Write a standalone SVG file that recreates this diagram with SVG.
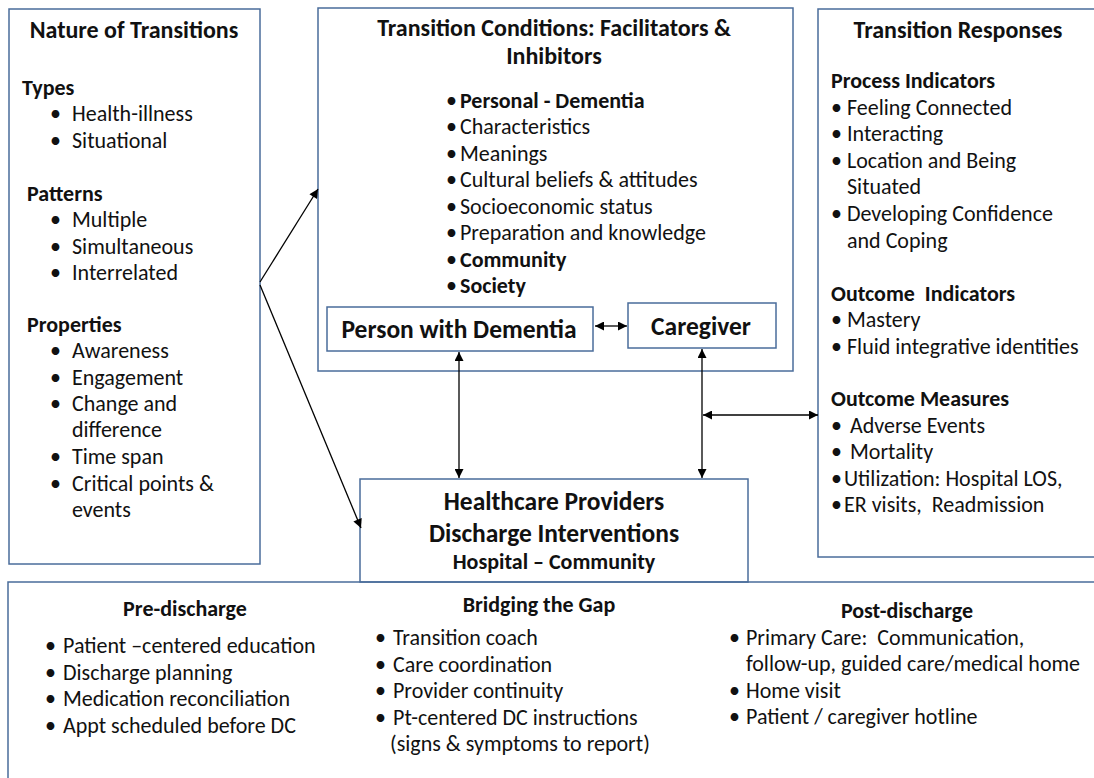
<svg xmlns="http://www.w3.org/2000/svg" width="1094" height="778" viewBox="0 0 1094 778">
<defs>
<marker id="ah" viewBox="0 0 10 10" refX="10" refY="5" markerWidth="10" markerHeight="9" markerUnits="userSpaceOnUse" orient="auto-start-reverse">
<path d="M0,0 L10,5 L0,10 Z" fill="#000"/>
</marker>
<style>
.box{fill:#fff;stroke:#4a6c9b;stroke-width:1.5}
text{font-family:Carlito,Lato,"Liberation Sans",sans-serif;font-size:22px;fill:#111}
.b{font-weight:bold}
.h{font-weight:bold;font-size:24px}
.big{font-weight:bold;font-size:25.5px}
.c{text-anchor:middle}
.ln{stroke:#000;stroke-width:1.3;fill:none}
</style>
</defs>
<rect width="1094" height="778" fill="#fff"/>

<g id="nature">
<rect class="box" x="9" y="9" width="251" height="555"/>
<text class="h c" x="134" y="38">Nature of Transitions</text>
<text class="b" x="22" y="95">Types</text>
<text x="50" y="121">•</text><text x="72" y="121">Health-illness</text>
<text x="50" y="148">•</text><text x="72" y="148">Situational</text>
<text class="b" x="27" y="201">Patterns</text>
<text x="50" y="227">•</text><text x="72" y="227">Multiple</text>
<text x="50" y="254">•</text><text x="72" y="254">Simultaneous</text>
<text x="50" y="280">•</text><text x="72" y="280">Interrelated</text>
<text class="b" x="27" y="332">Properties</text>
<text x="50" y="358">•</text><text x="72" y="358">Awareness</text>
<text x="50" y="385">•</text><text x="72" y="385">Engagement</text>
<text x="50" y="411">•</text><text x="72" y="411">Change and</text>
<text x="72" y="437">difference</text>
<text x="50" y="464">•</text><text x="72" y="464">Time span</text>
<text x="50" y="491">•</text><text x="72" y="491">Critical points &amp;</text>
<text x="72" y="517">events</text>
</g>

<g id="conditions">
<rect class="box" x="318" y="8" width="475" height="363"/>
<text class="h c" x="554" y="36">Transition Conditions: Facilitators &amp;</text>
<text class="h c" x="554" y="64">Inhibitors</text>
<text x="446" y="108">•</text><text class="b" x="460" y="108">Personal - Dementia</text>
<text x="446" y="134">•</text><text x="460" y="134">Characteristics</text>
<text x="446" y="161">•</text><text x="460" y="161">Meanings</text>
<text x="446" y="187">•</text><text x="460" y="187">Cultural beliefs &amp; attitudes</text>
<text x="446" y="214">•</text><text x="460" y="214">Socioeconomic status</text>
<text x="446" y="240">•</text><text x="460" y="240">Preparation and knowledge</text>
<text x="446" y="267">•</text><text class="b" x="460" y="267">Community</text>
<text x="446" y="293">•</text><text class="b" x="460" y="293">Society</text>
</g>

<g id="person">
<rect class="box" x="327" y="307" width="266" height="44"/>
<text class="big c" x="459" y="338">Person with Dementia</text>
</g>

<g id="caregiver">
<rect class="box" x="628" y="303" width="148" height="45"/>
<text class="big c" x="701" y="335">Caregiver</text>
</g>

<g id="responses">
<rect class="box" x="818" y="9" width="290" height="548"/>
<text class="h c" x="958" y="38">Transition Responses</text>
<text class="b" x="831" y="88">Process Indicators</text>
<text x="831" y="115">•</text><text x="847" y="115">Feeling Connected</text>
<text x="831" y="141">•</text><text x="847" y="141">Interacting</text>
<text x="831" y="168">•</text><text x="847" y="168">Location and Being</text>
<text x="847" y="194">Situated</text>
<text x="831" y="221">•</text><text x="847" y="221">Developing Confidence</text>
<text x="847" y="248">and Coping</text>
<text class="b" x="831" y="301" xml:space="preserve">Outcome  Indicators</text>
<text x="831" y="327">•</text><text x="847" y="327">Mastery</text>
<text x="831" y="354">•</text><text x="847" y="354">Fluid integrative identities</text>
<text class="b" x="831" y="406">Outcome Measures</text>
<text x="831" y="433">•</text><text x="850" y="433">Adverse Events</text>
<text x="831" y="459">•</text><text x="850" y="459">Mortality</text>
<text x="831" y="486">•</text><text x="844" y="486">Utilization: Hospital LOS,</text>
<text x="831" y="512">•</text><text x="844" y="512" xml:space="preserve">ER visits,  Readmission</text>
</g>

<g id="providers">
<rect class="box" x="360" y="479" width="388" height="103"/>
<text class="big c" x="554" y="510">Healthcare Providers</text>
<text class="big c" x="554" y="542">Discharge Interventions</text>
<text class="b c" x="554" y="569">Hospital – Community</text>
</g>

<g id="interventions-bottom">
<path d="M8,800 V582 H1110" fill="none" stroke="#4a6c9b" stroke-width="1.5"/>
<text class="b c" x="185" y="616">Pre-discharge</text>
<text x="45" y="653">•</text><text x="63" y="653">Patient –centered education</text>
<text x="45" y="680">•</text><text x="63" y="680">Discharge planning</text>
<text x="45" y="706">•</text><text x="63" y="706">Medication reconciliation</text>
<text x="45" y="733">•</text><text x="63" y="733">Appt scheduled before DC</text>
<text class="b c" x="539" y="612">Bridging the Gap</text>
<text x="375" y="645">•</text><text x="393" y="645">Transition coach</text>
<text x="375" y="672">•</text><text x="393" y="672">Care coordination</text>
<text x="375" y="698">•</text><text x="393" y="698">Provider continuity</text>
<text x="375" y="725">•</text><text x="393" y="725">Pt-centered DC instructions</text>
<text x="390" y="751">(signs &amp; symptoms to report)</text>
<text class="b c" x="907" y="618">Post-discharge</text>
<text x="729" y="645">•</text><text x="746" y="645" xml:space="preserve">Primary Care:  Communication,</text>
<text x="746" y="671">follow-up, guided care/medical home</text>
<text x="729" y="698">•</text><text x="746" y="698">Home visit</text>
<text x="729" y="724">•</text><text x="746" y="724">Patient / caregiver hotline</text>
</g>

<g id="connectors">
<line class="ln" x1="260" y1="282" x2="318" y2="189" marker-end="url(#ah)"/>
<line class="ln" x1="260" y1="285" x2="361" y2="528" marker-end="url(#ah)"/>
<line class="ln" x1="459" y1="352" x2="459" y2="478" marker-start="url(#ah)" marker-end="url(#ah)"/>
<line class="ln" x1="595" y1="326" x2="627" y2="326" marker-start="url(#ah)" marker-end="url(#ah)"/>
<line class="ln" x1="702" y1="349" x2="702" y2="478" marker-start="url(#ah)" marker-end="url(#ah)"/>
<line class="ln" x1="703" y1="415" x2="818" y2="415" marker-start="url(#ah)" marker-end="url(#ah)"/>
</g>
</svg>
